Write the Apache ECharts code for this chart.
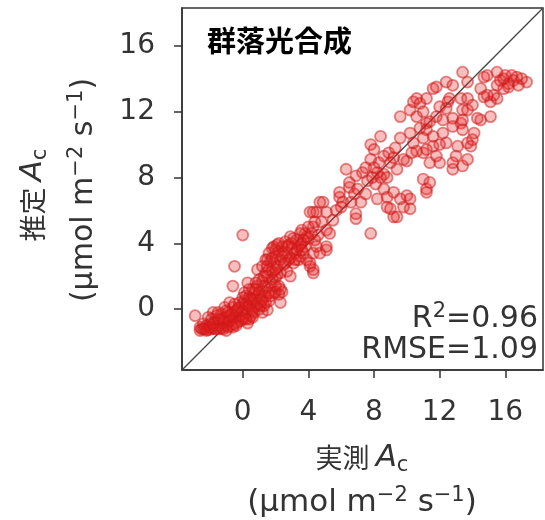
<!DOCTYPE html>
<html><head><meta charset="utf-8">
<script src="https://cdn.jsdelivr.net/npm/echarts@6/dist/echarts.min.js"></script>
<style>html,body{margin:0;padding:0;background:#fff}#c{width:545px;height:520px}</style>
</head><body><div id="c"></div>
<script>
// Axis settings
const tickValues = [0, 4, 8, 12, 16];
const axisMin = -3.7, axisMax = 18.3;

const lowRange = [[-2.9,-0.4],[-2.6,-1.1],[-2.6,-1.3],[-2.5,-1.2],[-2.4,-0.9],[-2.3,-1.2],[-2.2,-1.0],[-2.1,-1.25],[-2.1,-0.5],[-2.0,-0.9],[-1.9,-1.2],[-1.9,-0.6],[-1.8,-1.1],[-1.8,-0.2],[-1.7,-0.8],[-1.6,-1.2],[-1.6,-0.4],[-1.5,-1.0],[-1.4,-0.7],[-1.3,-1.1],[-1.3,-0.3],[-1.2,-0.9],[-1.1,-0.5],[-1.1,0.1],[-1.0,-1.0],[-1.0,-1.3],[-0.9,-0.8],[-0.9,-0.2],[-0.8,-0.4],[-0.8,0.4],[-0.7,-1.0],[-0.6,-0.6],[-0.6,0.1],[-0.5,-0.9],[-0.5,-0.2],[-0.4,-0.5],[-0.3,-0.8],[-0.3,0.0],[-0.2,-0.4],[-0.2,0.4],[-0.1,-0.7],[0.0,-0.1],[0.0,0.3],[0.1,-0.5],[0.1,1.0],[0.1,0.5],[0.2,-0.2],[0.2,0.8],[0.3,0.2],[0.3,-0.85],[0.3,1.6],[0.4,0.7],[0.4,-0.6],[0.5,0.0],[0.5,-0.4],[0.6,0.4],[0.6,1.2],[0.6,-0.5],[0.7,1.0],[0.7,-0.2],[0.8,0.2],[0.8,1.6],[0.9,0.8],[0.9,1.4],[0.9,2.4],[1.0,0.0],[1.1,0.5],[1.2,1.1],[1.2,1.7],[1.2,-0.2],[1.3,0.2],[1.4,0.8],[1.4,2.2],[1.5,2.0],[1.5,1.3],[1.5,-0.05],[1.5,3.0],[1.6,0.5],[1.7,1.6],[1.8,2.3],[1.9,1.0],[2.0,1.9],[2.0,1.05],[2.1,2.6],[2.2,1.4],[2.3,2.2],[2.3,0.4],[2.4,1.05],[0.0,4.5],[-0.5,2.6],[-0.6,1.4],
  [-2.4,-1.2],[-2.2,-1.3],[-2.0,-1.1],[-1.8,-0.9],[-1.7,-1.2],[-1.5,-0.6],[-1.4,-1.2],[-1.2,-0.6],[-1.2,-1.2],[-0.9,-1.1],[-0.8,-0.7],[-0.7,-0.3],[-0.6,-1.1],[-0.4,-0.1],[-0.4,-1.0],[-0.2,0.1],[0.0,-0.6],[0.0,0.7],[0.2,0.3],[0.2,-0.6],[0.4,0.2],[0.4,1.2],[0.5,0.6],[0.6,-0.1],[0.7,0.6],[0.8,1.2],[0.9,0.3],[1.0,1.0],[1.0,1.8],[1.1,0.2],[1.2,0.6],[1.3,1.4],[1.3,2.0],[1.4,0.4],[1.6,1.0],[1.6,2.4],[1.7,0.8],[1.8,1.8],[1.9,2.8],[2.0,1.4],[2.1,2.1],[2.2,0.9],[-1.5,-0.2],[-1.0,-0.1],[-0.5,0.3]];
const midLowRange = [[1.2,2.6],[1.4,3.0],[1.6,3.4],[1.7,2.9],[1.8,3.7],[1.9,3.8],[2.0,3.2],[2.1,3.9],[2.2,3.5],[2.3,3.0],[2.4,3.8],[2.5,3.4],[2.6,4.1],[2.7,3.4],[2.8,3.9],[2.9,3.1],[3.0,3.7],[3.1,4.3],[3.2,3.4],[3.3,4.2],[3.4,3.8],[3.5,4.6],[3.6,4.0],[3.7,3.4],[3.8,4.6],[3.9,4.4],[3.9,3.0],[4.1,2.6],[4.3,2.2],[4.1,2.8],[4.3,2.4],[4.3,3.4],[4.7,3.4],[5.1,3.6],[5.1,3.8],[4.0,5.0],[4.3,5.0],[4.5,5.9],[4.3,5.9],[4.1,5.9],[4.9,6.5],[4.7,6.5],[5.1,5.9],[5.1,4.8],[5.3,4.6],[4.6,4.5],[4.8,5.3],[5.5,5.4],[2.3,1.2],[2.7,2.3],[3.1,2.8],[3.5,3.2],[2.0,2.4],[2.6,2.8],[3.4,3.0],[2.9,2.0],[3.6,4.8],[4.4,4.2],
  [1.5,2.6],[1.8,3.1],[2.0,3.6],[2.2,4.0],[2.4,3.2],[2.5,2.7],[2.7,3.8],[2.8,3.0],[3.0,4.0],[3.2,3.0],[3.3,3.6],[3.5,3.9],[3.7,4.2],[3.8,3.8],[4.0,4.3],[4.2,4.6],[4.4,5.3],[4.5,3.8],[2.9,4.4],[3.6,3.6]];
const midRange = [[5.9,6.8],[5.9,7.1],[6.1,6.5],[6.3,8.5],[6.5,7.4],[6.5,7.7],[6.9,5.5],[6.9,5.8],[7.2,6.5],[7.3,8.3],[7.5,8.6],[7.8,4.6],[7.8,9.1],[7.8,10.0],[8.0,9.7],[8.2,6.7],[8.2,8.3],[8.4,8.0],[8.0,8.6],[8.6,8.2],[8.4,10.5],[8.6,7.3],[8.6,9.3],[8.8,6.8],[8.8,6.2],[9.0,8.9],[9.0,6.1],[9.2,7.1],[9.2,5.6],[9.4,5.6],[9.4,8.5],[9.6,6.7],[9.6,10.4],[9.6,11.7],[9.8,9.1],[9.8,6.2],[10.0,6.9],[10.2,6.1],[10.2,6.7],[7.0,7.3],[7.6,7.8],[8.9,9.5],[9.3,9.8],[6.8,7.0],[8.3,8.9],[7.5,7.0],[5.7,6.0],[6.0,6.2],[6.6,6.5],[8.1,7.6],[8.8,8.0],[9.2,9.2],[7.9,8.0],[6.9,8.1]];
const highMidRange = [[10.2,10.7],[10.4,10.1],[10.2,12.1],[10.4,12.6],[10.6,12.8],[10.8,12.5],[10.6,11.7],[11.2,11.3],[11.0,12.0],[11.2,12.8],[11.6,13.4],[12.0,12.3],[11.8,11.7],[12.2,11.5],[12.4,13.8],[12.8,13.6],[11.8,13.5],[12.4,12.2],[12.6,12.8],[12.8,11.6],[11.0,7.9],[11.2,7.3],[11.4,7.7],[11.2,7.1],[11.4,8.9],[12.0,8.9],[12.8,8.5],[13.4,8.7],[12.8,8.9],[11.2,9.7],[11.8,9.3],[11.2,10.9],[11.6,10.5],[12.2,10.7],[12.8,11.1],[12.4,10.1],[13.1,9.9],[13.7,10.1],[13.7,9.1],[13.0,9.3],[11.0,9.5],[11.6,9.9],[10.8,11.0],[11.4,11.4],[12.0,10.0],[10.6,9.6],[10.0,9.0],[10.3,9.5],[11.0,10.4],[12.5,12.6]];
const highRange = [[13.3,11.3],[13.4,10.9],[13.4,11.5],[13.3,12.8],[13.4,12.1],[13.7,12.8],[13.7,12.1],[13.4,14.4],[13.7,13.8],[13.9,9.9],[14.1,10.7],[14.0,10.3],[14.5,11.5],[15.1,11.7],[14.3,11.6],[14.7,12.9],[15.1,12.6],[15.5,12.8],[14.5,13.4],[15.3,13.0],[14.9,14.2],[15.5,14.4],[14.7,14.1],[15.9,13.4],[15.5,13.6],[15.9,14.0],[16.2,13.7],[16.5,13.9],[16.8,13.6],[17.3,13.8],[16.4,14.2],[17.0,14.0],[16.2,13.5],[14.9,13.0],[14.0,12.4],[15.7,13.9],[16.0,14.2],[16.7,14.1]];

const panelTitle = '群落光合成';
const r2Text = '0.96';
const rmseText = '1.09';

const FONT = '"DejaVu Sans","Noto Sans CJK JP",sans-serif';
const CJK = '"Noto Sans CJK JP",sans-serif';
const TXT = '#333';
const allPoints = lowRange.concat(midLowRange, midRange, highMidRange, highRange);

const chart = echarts.init(document.getElementById('c'), null, {renderer: 'canvas'});

function richSet(size) {
  return {
    t: {fontSize: size, lineHeight: 36, fontFamily: FONT, fill: TXT, color: TXT},
    j: {fontSize: 27, lineHeight: 36, fontFamily: CJK, fill: TXT, color: TXT},
    i: {fontSize: size + 1, lineHeight: 36, fontFamily: FONT, fontStyle: 'italic', fill: TXT, color: TXT},
    sub: {fontSize: 21, lineHeight: 20, fontFamily: FONT, verticalAlign: 'bottom', fill: TXT, color: TXT},
    sup: {fontSize: 21, lineHeight: 20, fontFamily: FONT, verticalAlign: 'top', fill: TXT, color: TXT}
  };
}

const axisCommon = {
  type: 'value', min: axisMin, max: axisMax,
  splitLine: {show: false},
  axisLine: {show: true, onZero: false, lineStyle: {color: TXT, width: 1.5}},
  axisTick: {show: true, inside: false, length: 8, customValues: tickValues, lineStyle: {color: TXT, width: 1.5}},
};

chart.setOption({
  animation: false,
  backgroundColor: '#fff',
  grid: {left: 182, right: 2, top: 8, bottom: 150, show: true, borderColor: TXT, borderWidth: 1.5, containLabel: false, outerBoundsMode: 'none'},
  xAxis: Object.assign({}, axisCommon, {
    axisLabel: {customValues: tickValues, fontSize: 28, color: TXT, margin: 29, fontFamily: FONT}
  }),
  yAxis: Object.assign({}, axisCommon, {
    axisLabel: {customValues: tickValues, fontSize: 28, color: TXT, margin: 27, fontFamily: FONT}
  }),
  series: [
    {type: 'line', data: [[axisMin, axisMin], [axisMax, axisMax]], showSymbol: false, silent: true, z: 1,
     lineStyle: {color: '#444', width: 1.3}},
    {type: 'scatter', data: allPoints, symbolSize: 11, z: 2, silent: true,
     itemStyle: {color: 'rgba(232,30,30,0.36)', borderColor: 'rgba(205,25,25,0.65)', borderWidth: 1.8}}
  ],
  graphic: [
    {type: 'text', x: 207, y: 41, z: 10, style: {text: panelTitle, fontSize: 29, fontWeight: 'bold', fontFamily: CJK, fill: '#000', align: 'left', verticalAlign: 'middle'}},
    {type: 'text', x: 538, y: 319, z: 10, style: {text: '{t|R}{sup|2}{t|=' + r2Text + '}', rich: richSet(30), align: 'right', verticalAlign: 'middle'}},
    {type: 'text', x: 538, y: 350, z: 10, style: {text: '{t|RMSE=' + rmseText + '}', rich: richSet(30), align: 'right', verticalAlign: 'middle'}},
    {type: 'text', x: 362, y: 458, z: 10, style: {text: '{j|実測 }{i|A}{sub|c}', rich: richSet(30), align: 'center', verticalAlign: 'middle'}},
    {type: 'text', x: 362, y: 503, z: 10, style: {text: '{t|(µmol m}{sup|−2}{t| s}{sup|−1}{t|)}', rich: richSet(31), align: 'center', verticalAlign: 'middle'}},
    {type: 'text', x: 33, y: 195, rotation: Math.PI / 2, z: 10, style: {text: '{j|推定 }{i|A}{sub|c}', rich: richSet(30), align: 'center', verticalAlign: 'middle'}},
    {type: 'text', x: 84, y: 190, rotation: Math.PI / 2, z: 10, style: {text: '{t|(µmol m}{sup|−2}{t| s}{sup|−1}{t|)}', rich: richSet(30), align: 'center', verticalAlign: 'middle'}}
  ]
});
</script></body></html>
